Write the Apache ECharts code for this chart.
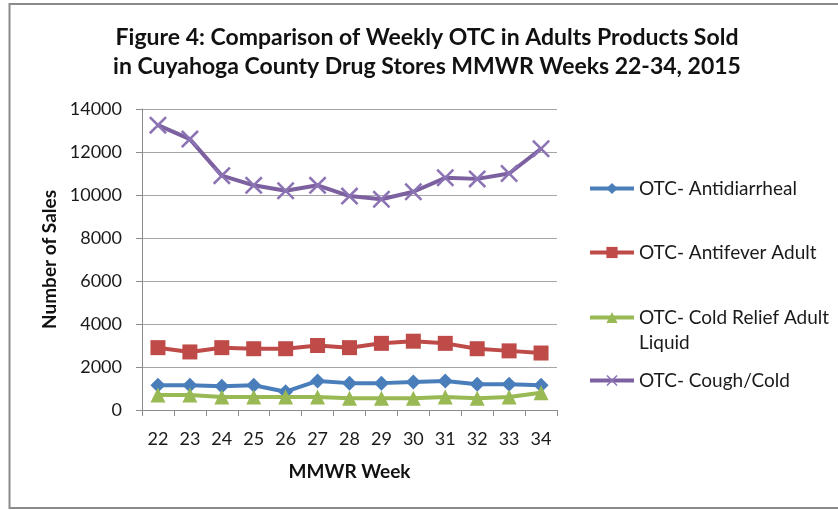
<!DOCTYPE html>
<html>
<head>
<meta charset="utf-8">
<script src="https://cdn.jsdelivr.net/npm/echarts@6/dist/echarts.min.js"></script>
<style>
html,body{margin:0;padding:0;background:#fff;}
#chart{width:838px;height:510px;}
</style>
</head>
<body>
<div id="chart"></div>
<script>
var weeks = ['22','23','24','25','26','27','28','29','30','31','32','33','34'];
var antidiarrheal = [1150,1150,1100,1150,850,1350,1250,1250,1300,1350,1200,1200,1150];
var antifever = [2900,2700,2900,2850,2850,3000,2900,3100,3200,3100,2850,2750,2650];
var coldRelief = [700,700,600,600,600,600,550,550,550,600,550,600,800];
var coughCold = [13250,12600,10900,10450,10200,10450,9950,9800,10150,10800,10750,11000,12150];
var yTicks = [0,2000,4000,6000,8000,10000,12000,14000];

var names = ['OTC- Antidiarrheal','OTC- Antifever Adult','OTC- Cold Relief Adult Liquid','OTC- Cough/Cold'];
var colors = ['#4A7EBB','#BE4B48','#98B954','#7D60A0'];
var xPath = 'path://M0,1L1,0L5,4L9,0L10,1L6,5L10,9L9,10L5,6L1,10L0,9L4,5Z';
var symbols = ['diamond','rect','triangle',xPath];
var symSizes = [15,15,15,18];
var markerColors = ['#4A7EBB','#BE4B48','#98B954','#8C73B4'];
var dataSets = [antidiarrheal, antifever, coldRelief, coughCold];
var legendTops = [176, 240, 280, 368];
var font = 'Lato, "Open Sans", sans-serif';

var chart = echarts.init(document.getElementById('chart'), null, {renderer:'canvas'});

var series = names.map(function(n,i){
  return {
    name: n, type: 'line', data: dataSets[i],
    symbol: symbols[i], symbolSize: symSizes[i],
    lineStyle: {color: colors[i], width: 4},
    itemStyle: {color: markerColors[i]},
    z: 2 + i
  };
});

var legends = names.map(function(n,i){
  return {
    data: [n], left: 588, top: legendTops[i], padding: 0,
    itemWidth: 44, itemHeight: 14, itemGap: 0,
    lineStyle: {width: 4, color: colors[i]},
    formatter: function(name){
      if (name === 'OTC- Cold Relief Adult Liquid') return ' \nOTC- Cold Relief Adult\nLiquid';
      return name;
    },
    textStyle: {fontFamily: font, fontSize: 19, color: '#1a1a1a', lineHeight: 25},
    selectedMode: false
  };
});

chart.setOption({
  animation: false,
  backgroundColor: '#fff',
  title: {
    text: 'Figure 4: Comparison of Weekly OTC in Adults Products Sold\nin Cuyahoga County Drug Stores MMWR Weeks 22-34, 2015',
    left: 427, top: 23, padding: 0, textAlign: 'center',
    textStyle: {fontFamily: font, fontSize: 23, fontWeight: 'bold', color: '#111', lineHeight: 29}
  },
  legend: legends,
  grid: {left: 142, right: 281, top: 109, bottom: 100, containLabel: false},
  xAxis: {
    type: 'category', data: weeks, boundaryGap: true,
    name: 'MMWR Week', nameLocation: 'middle', nameGap: 52,
    nameTextStyle: {fontFamily: font, fontSize: 19, fontWeight: 'bold', color: '#111'},
    axisLine: {lineStyle: {color: '#8c8c8c', width: 1}},
    axisTick: {show: true, alignWithLabel: false, length: 6, lineStyle: {color: '#8c8c8c'}},
    axisLabel: {fontFamily: font, fontSize: 18, color: '#1a1a1a', margin: 20}
  },
  yAxis: {
    type: 'value', min: yTicks[0], max: yTicks[yTicks.length-1], interval: 2000,
    name: 'Number of Sales', nameLocation: 'middle', nameGap: 83, nameRotate: 90,
    nameTextStyle: {fontFamily: font, fontSize: 19, fontWeight: 'bold', color: '#111'},
    axisLine: {show: true, lineStyle: {color: '#8c8c8c', width: 1}},
    axisTick: {show: true, length: 6, lineStyle: {color: '#8c8c8c'}},
    axisLabel: {fontFamily: font, fontSize: 18, color: '#1a1a1a', margin: 20,
      formatter: function(v){ return String(v); }},
    splitLine: {show: true, lineStyle: {color: '#a6a6a6', width: 1}}
  },
  graphic: [{
    type: 'rect', shape: {x: 9.5, y: 4, width: 900, height: 504},
    style: {fill: 'none', stroke: '#8a8a8a', lineWidth: 2}, silent: true, z: -1
  }],
  series: series
});
</script>
</body>
</html>
